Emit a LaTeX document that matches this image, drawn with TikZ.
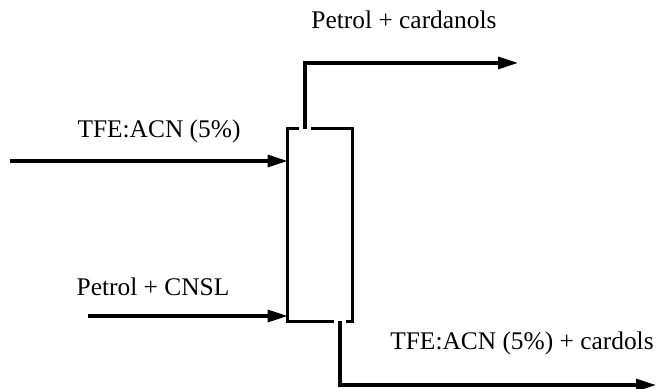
\documentclass[tikz,border=0pt]{standalone}
\usepackage{fontspec}
\setmainfont{Liberation Serif}
\usepackage{tikz}
\usetikzlibrary{arrows.meta, calc, positioning}

\begin{document}
\begin{tikzpicture}[x=0.5pt, y=-0.5pt,
    wall/.style={line width=1.6pt},
    stream/.style={line width=1.6pt, -{Triangle[length=10pt, width=6pt]}},
    tag/.style={font=\fontsize{12.7}{15}\selectfont, inner sep=0pt}]
  \useasboundingbox (0,0) rectangle (657,389);
  % column
  \node[minimum width=32pt, minimum height=96pt, inner sep=0pt] (column) at (320,225) {};
  \coordinate (topout) at ([xshift=-7.5pt]column.north);
  \coordinate (botout) at ([xshift=10pt]column.south);
  \draw[wall] ([xshift=-3pt]topout) -- (column.north west) -- (column.south west)
    -- ([xshift=-3pt]botout);
  \draw[wall] ([xshift=3pt]topout) -- (column.north east) -- (column.south east)
    -- ([xshift=3pt]botout);
  % feeds
  \coordinate (feedA) at (10,161);
  \coordinate (feedB) at (88,316);
  \draw[stream] (feedA) -- (feedA -| column.west);
  \draw[stream] (feedB) -- (feedB -| column.west);
  \node[tag] (solvent) at (159,131) {TFE:ACN (5\%)};
  \node[tag] (mixture) at (153,287) {Petrol + CNSL};
  % products
  \coordinate (topend) at (518,63);
  \coordinate (botend) at (656,385);
  \draw[stream] (topout) |- (topend);
  \draw[stream] (botout) |- (botend);
  \node[tag] (upper) at (404,20) {Petrol + cardanols};
  \node[tag] (lower) at (522,343) {TFE:ACN (5\%) + cardols};
\end{tikzpicture}
\end{document}
